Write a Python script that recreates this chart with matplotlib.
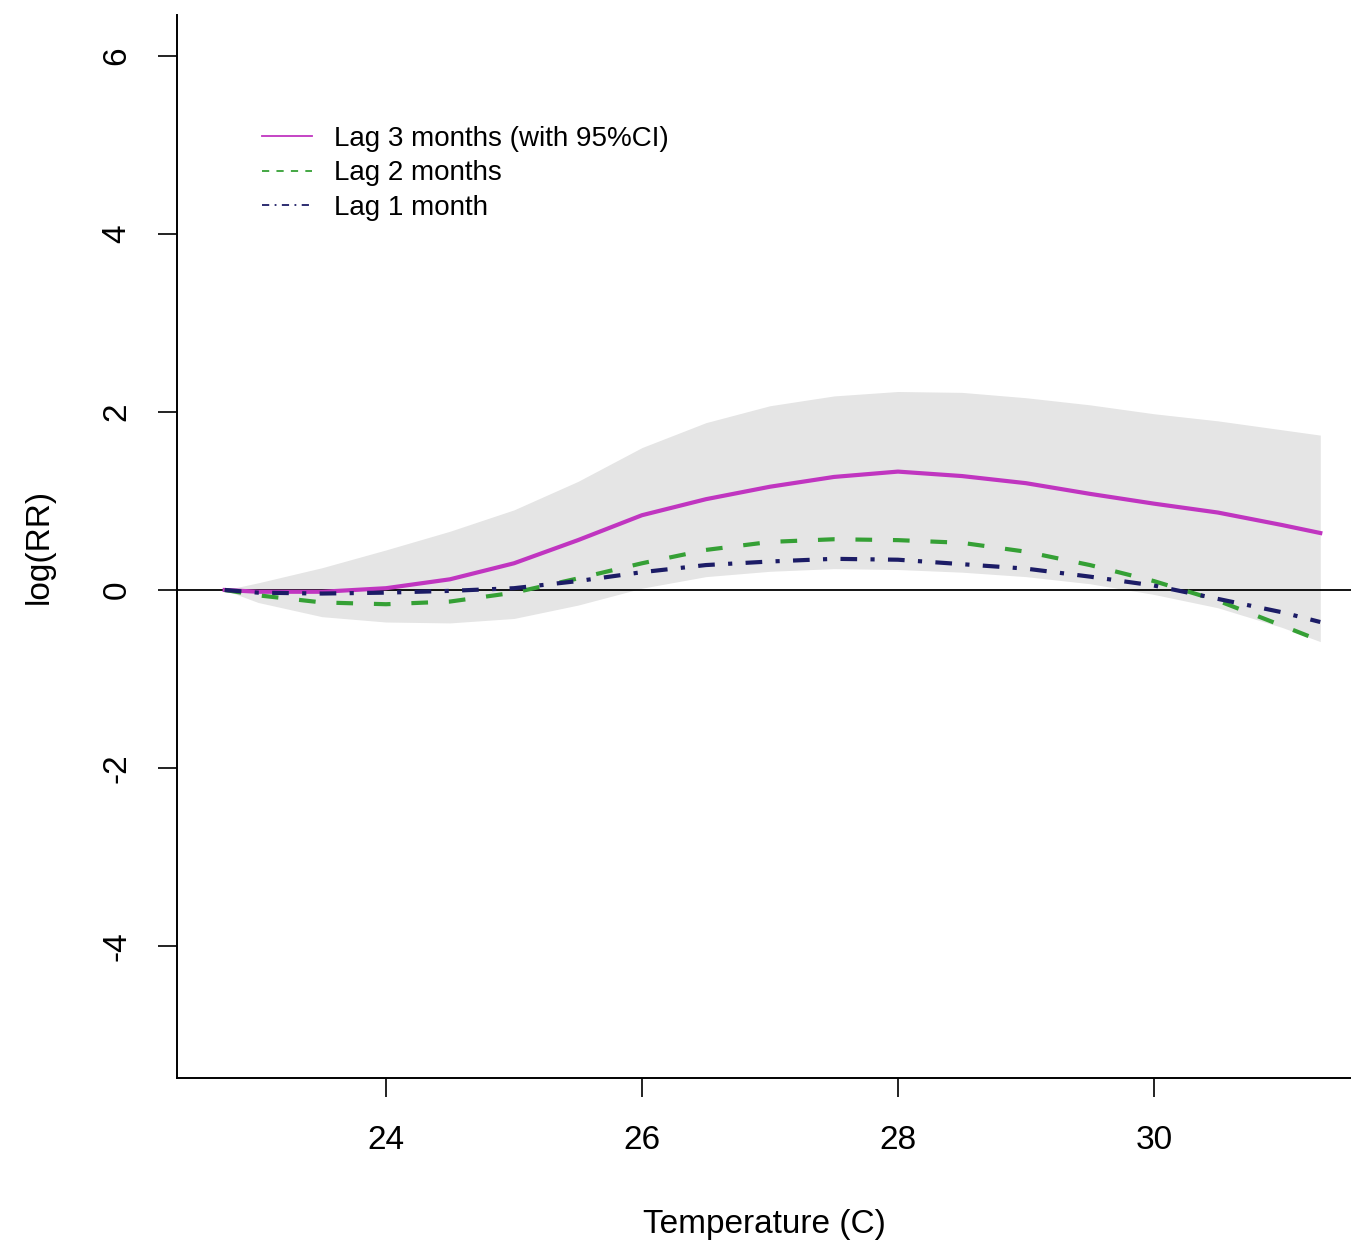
import matplotlib
matplotlib.use("Agg")
import matplotlib.pyplot as plt
from matplotlib.lines import Line2D

plt.rcParams["font.family"] = ["Liberation Sans", "DejaVu Sans"]

# Temperature grid (C) and estimated exposure-response curves, log(RR)
temperature = [22.74, 23.0, 23.5, 24.0, 24.5, 25.0, 25.5, 26.0, 26.5, 27.0,
               27.5, 28.0, 28.5, 29.0, 29.5, 30.0, 30.5, 31.0, 31.3]
lag3 = [0.0, -0.02, -0.02, 0.02, 0.12, 0.30, 0.56, 0.84, 1.02, 1.16,
        1.27, 1.33, 1.28, 1.20, 1.08, 0.97, 0.87, 0.73, 0.64]
lag3_upper = [0.0, 0.08, 0.25, 0.45, 0.66, 0.90, 1.22, 1.60, 1.88, 2.07,
              2.18, 2.23, 2.22, 2.16, 2.08, 1.98, 1.90, 1.80, 1.74]
lag3_lower = [0.0, -0.14, -0.30, -0.36, -0.37, -0.32, -0.17, 0.02, 0.15, 0.21,
              0.24, 0.23, 0.20, 0.15, 0.07, -0.05, -0.20, -0.42, -0.58]
lag2 = [0.0, -0.06, -0.14, -0.16, -0.13, -0.03, 0.13, 0.30, 0.45, 0.54,
        0.57, 0.56, 0.53, 0.43, 0.28, 0.10, -0.12, -0.40, -0.57]
lag1 = [0.0, -0.03, -0.04, -0.03, -0.01, 0.02, 0.10, 0.20, 0.28, 0.32,
        0.35, 0.34, 0.29, 0.24, 0.15, 0.05, -0.10, -0.25, -0.36]

x_ticks = [24, 26, 28, 30]
y_ticks = [-4, -2, 0, 2, 4, 6]
labels = ["Lag 3 months (with 95%CI)", "Lag 2 months", "Lag 1 month"]

c_lag3 = "#c035c0"
c_lag2 = "#35a035"
c_lag1 = "#1c1c66"

fig = plt.figure(figsize=(13.51, 12.46), dpi=100)
ax = fig.add_axes([177 / 1351, 1 - 1078 / 1246, 1 - 177 / 1351, (1078 - 15) / 1246])

ax.fill_between(temperature, lag3_lower, lag3_upper, color="#e5e5e5", lw=0, zorder=1)
ax.axhline(0, color="black", lw=1.3, zorder=2)
ax.plot(temperature, lag3, color=c_lag3, lw=3.0, solid_joinstyle="round", zorder=3)
ax.plot(temperature, lag2, color=c_lag2, lw=3.0, linestyle=(0, (4.0, 5.0)), zorder=4)
ax.plot(temperature, lag1, color=c_lag1, lw=3.0,
        linestyle=(0, (4.0, 3.2, 1.0, 3.2)), zorder=5)

ax.set_xlim(22.367, 31.54)
ax.set_ylim(-5.483, 6.46)
ax.set_xticks(x_ticks)
ax.set_yticks(y_ticks)
ax.set_yticklabels([str(v) for v in y_ticks], rotation=90, va="center")

for side in ("top", "right"):
    ax.spines[side].set_visible(False)
for side in ("left", "bottom"):
    ax.spines[side].set_linewidth(1.4)

ax.tick_params(axis="both", length=14, width=1.4, labelsize=24, color="#222222")
ax.tick_params(axis="x", pad=20)
ax.tick_params(axis="y", pad=18)

ax.set_xlabel("Temperature (C)", fontsize=24, labelpad=38)
ax.set_ylabel("log(RR)", fontsize=24, labelpad=34)

handles = [
    Line2D([], [], color=c_lag3, lw=1.3),
    Line2D([], [], color=c_lag2, lw=1.3, linestyle=(0, (4, 4))),
    Line2D([], [], color=c_lag1, lw=1.3, linestyle=(0, (4, 3, 1, 3))),
]
ax.legend(handles, labels, loc="upper left",
          bbox_to_anchor=(262 / 1351, 1 - 126 / 1246),
          bbox_transform=fig.transFigure, frameon=False, fontsize=20,
          handlelength=1.8, handletextpad=0.8, labelspacing=0.3,
          borderpad=0, borderaxespad=0)

fig.savefig("out.png", dpi=100)
